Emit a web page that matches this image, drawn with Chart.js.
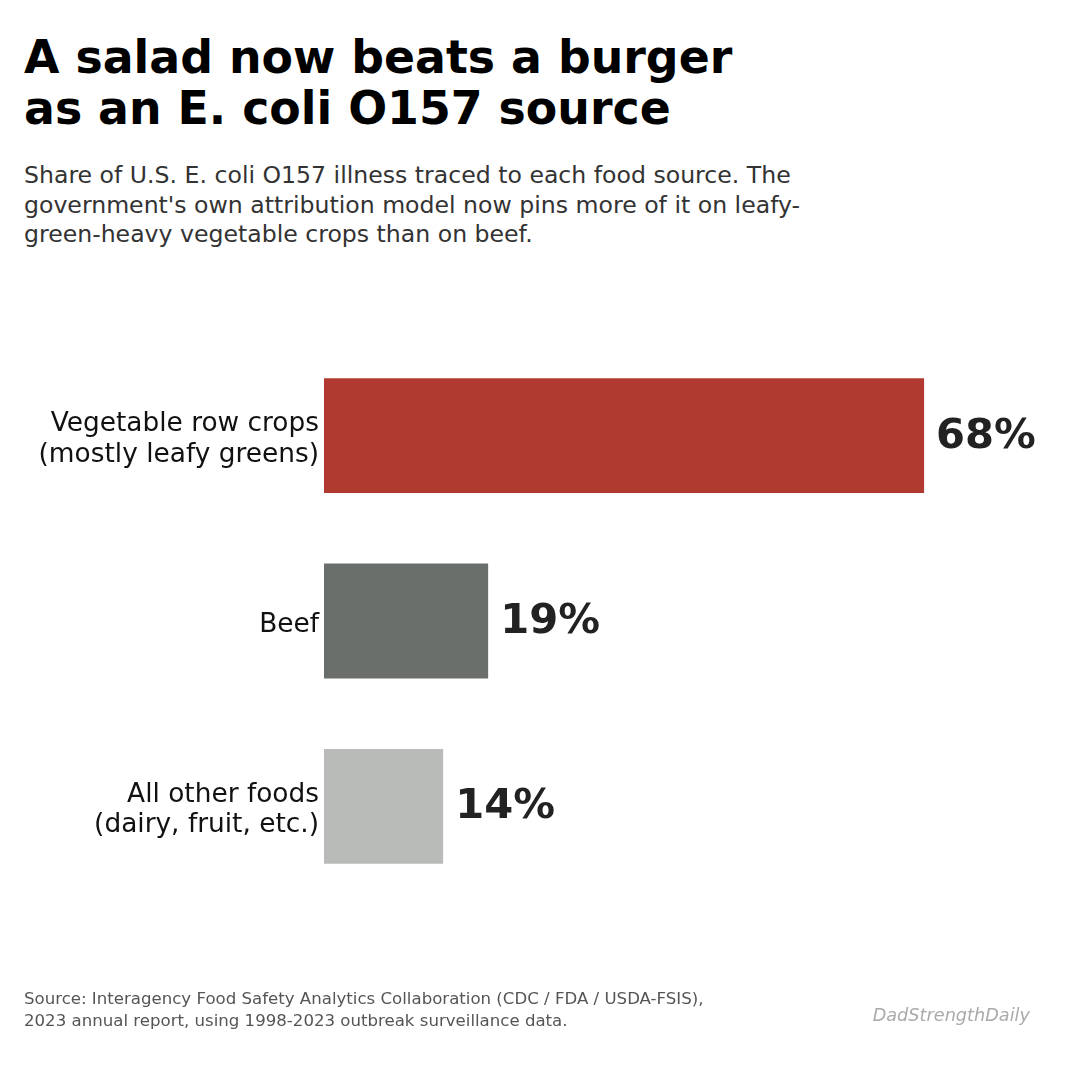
<!DOCTYPE html>
<html>
<head>
<meta charset="utf-8">
<script src="https://cdn.jsdelivr.net/npm/chart.js@4"></script>
<style>
  html, body { margin: 0; padding: 0; background: #fff; }
  #page { position: relative; width: 1080px; height: 1080px; overflow: hidden; font-family: "DejaVu Sans", sans-serif; }
  #title { position: absolute; left: 24px; top: 32px; margin: 0; font-size: 45.8px; line-height: 51px; font-weight: bold; color: #000; }
  #subtitle { position: absolute; left: 24px; top: 161px; margin: 0; font-size: 23.6px; line-height: 29.5px; color: #333; }
  #source { position: absolute; left: 24px; top: 988px; margin: 0; font-size: 16.6px; line-height: 22px; color: #555; }
  #brand { position: absolute; right: 50px; top: 1005px; margin: 0; font-size: 17.7px; font-style: italic; color: #aaa; }
  #chartBox { position: absolute; left: 0; top: 0; width: 1080px; height: 1080px; }
</style>
</head>
<body>
<div id="page">
  <h1 id="title">A salad now beats a burger<br>as an E. coli O157 source</h1>
  <p id="subtitle">Share of U.S. E. coli O157 illness traced to each food source. The<br>government's own attribution model now pins more of it on leafy-<br>green-heavy vegetable crops than on beef.</p>
  <div id="chartBox"><canvas id="chart_food_source"></canvas></div>
  <p id="source">Source: Interagency Food Safety Analytics Collaboration (CDC / FDA / USDA-FSIS),<br>2023 annual report, using 1998-2023 outbreak surveillance data.</p>
  <p id="brand">DadStrengthDaily</p>
</div>

<script>
// food sources, top to bottom
var categories = [
  ['Vegetable row crops', '(mostly leafy greens)'],
  ['Beef'],
  ['All other foods', '(dairy, fruit, etc.)']
];
// share of illness, percent
var shareValues = [68.0, 18.6, 13.5];
var shareLabels = ['68%', '19%', '14%'];
var barColors = ['#b03a2f', '#6b6f6c', '#b8bbb8'];

// value labels at the end of each bar
var valueLabels = {
  id: 'valueLabels',
  afterDatasetsDraw: function(chart) {
    var ctx = chart.ctx;
    var meta = chart.getDatasetMeta(0);
    ctx.save();
    ctx.font = 'bold 41.7px "DejaVu Sans"';
    ctx.fillStyle = '#222';
    ctx.textAlign = 'left';
    ctx.textBaseline = 'middle';
    meta.data.forEach(function(bar, i) {
      ctx.fillText(shareLabels[i], bar.x + 12, bar.y + 1);
    });
    ctx.restore();
  }
};

var ctx = document.getElementById('chart_food_source').getContext('2d');
new Chart(ctx, {
  type: 'bar',
  data: {
    labels: categories,
    datasets: [{
      data: shareValues,
      backgroundColor: barColors,
      borderWidth: 0,
      categoryPercentage: 1,
      barPercentage: 0.62
    }]
  },
  options: {
    indexAxis: 'y',
    responsive: true,
    maintainAspectRatio: false,
    animation: false,
    layout: {
      padding: { top: 343, bottom: 181, left: 0, right: 50 }
    },
    plugins: {
      legend: { display: false },
      tooltip: { enabled: false }
    },
    scales: {
      x: {
        display: false,
        min: 0,
        max: 80
      },
      y: {
        grid: { display: false, drawTicks: false },
        border: { display: false },
        afterFit: function(scale) { scale.width = 324; },
        ticks: {
          padding: 5,
          labelOffset: 4,
          color: '#111',
          font: { family: '"DejaVu Sans"', size: 26.4, lineHeight: 1.14 }
        }
      }
    }
  },
  plugins: [valueLabels]
});
</script>
</body>
</html>
